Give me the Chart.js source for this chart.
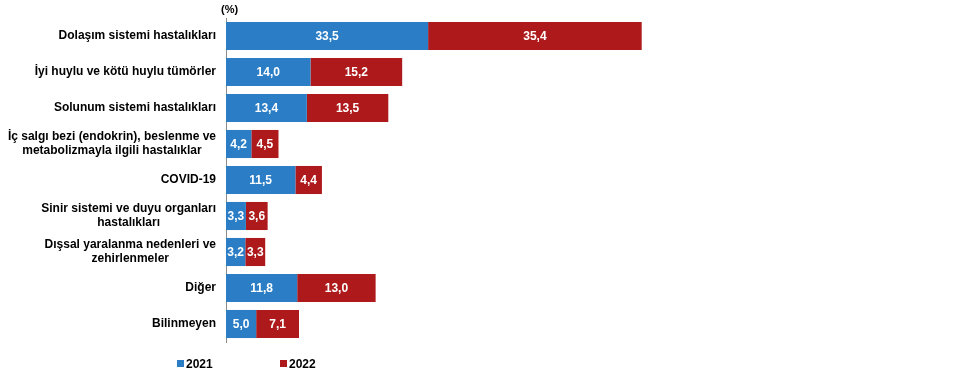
<!DOCTYPE html>
<html>
<head>
<meta charset="utf-8">
<script src="https://cdn.jsdelivr.net/npm/chart.js@4"></script>
<style>
  html, body { margin: 0; padding: 0; background: #fff; }
  #wrap { position: relative; width: 969px; height: 374px; }
  #legend { position: absolute; top: 357px; left: 0; font: bold 12px "Liberation Sans", Arial, sans-serif; color: #000; }
  #legend span.item { position: absolute; white-space: nowrap; }
  #legend i { display: inline-block; width: 7px; height: 7px; margin-right: 2px; vertical-align: 1px; }
</style>
</head>
<body>
<div id="wrap">
  <canvas id="chart" width="969" height="374"></canvas>
  <div id="legend"></div>
</div>
<script>
// categories (multi-line labels split like the original)
const categories = [
  "Dolaşım sistemi hastalıkları",
  "İyi huylu ve kötü huylu tümörler",
  "Solunum sistemi hastalıkları",
  ["İç salgı bezi (endokrin), beslenme ve", "metabolizmayla ilgili hastalıklar"],
  "COVID-19",
  ["Sinir sistemi ve duyu organları", "hastalıkları"],
  ["Dışsal yaralanma nedenleri ve", "zehirlenmeler"],
  "Diğer",
  "Bilinmeyen"
];
const years = ["2021", "2022"];
const values2021 = [33.5, 14.0, 13.4, 4.2, 11.5, 3.3, 3.2, 11.8, 5.0];
const values2022 = [35.4, 15.2, 13.5, 4.5, 4.4, 3.6, 3.3, 13.0, 7.1];
const colors = ["#2b7ec5", "#ae1a1b"];

const FONT = '"Liberation Sans", Arial, sans-serif';

// white value labels in the middle of each segment
const barLabels = {
  id: "barLabels",
  afterDatasetsDraw(chart) {
    const ctx = chart.ctx;
    ctx.save();
    ctx.font = "bold 12px " + FONT;
    ctx.fillStyle = "#fff";
    ctx.textAlign = "center";
    ctx.textBaseline = "middle";
    chart.data.datasets.forEach((ds, i) => {
      chart.getDatasetMeta(i).data.forEach((bar, j) => {
        const c = bar.getCenterPoint();
        ctx.fillText(ds.data[j].toFixed(1).replace(".", ","), c.x, c.y + 1);
      });
    });
    ctx.restore();
  }
};

// category labels: block right aligned to the axis, lines centred on each other
const catLabels = {
  id: "catLabels",
  afterDraw(chart) {
    const ctx = chart.ctx, y = chart.scales.y;
    const right = chart.scales.x.left - 10, lh = 14;
    ctx.save();
    ctx.font = "bold 12px " + FONT;
    ctx.fillStyle = "#000";
    ctx.textAlign = "center";
    ctx.textBaseline = "middle";
    chart.data.labels.forEach((lab, i) => {
      const lines = Array.isArray(lab) ? lab : [lab];
      const w = Math.max(...lines.map(l => ctx.measureText(l).width));
      const cx = right - w / 2;
      const cy = y.getPixelForValue(i);
      lines.forEach((l, k) => {
        ctx.fillText(l, cx, cy + (k - (lines.length - 1) / 2) * lh);
      });
    });
    // "(%)" above the axis
    ctx.textAlign = "left";
    ctx.font = "bold 11px " + FONT;
    ctx.fillText("(%)", chart.scales.x.left - 5, 10);
    ctx.restore();
  }
};

new Chart(document.getElementById("chart"), {
  type: "bar",
  data: {
    labels: categories,
    datasets: [
      { label: years[0], data: values2021, backgroundColor: colors[0] },
      { label: years[1], data: values2022, backgroundColor: colors[1] }
    ]
  },
  options: {
    indexAxis: "y",
    responsive: false,
    animation: false,
    events: [],
    layout: { padding: { top: 18, bottom: 32, right: 19, left: 0 } },
    datasets: { bar: { categoryPercentage: 0.78, barPercentage: 1 } },
    plugins: { legend: { display: false }, tooltip: { enabled: false } },
    scales: {
      x: { stacked: true, display: false, min: 0, max: 120 },
      y: {
        stacked: true,
        grid: { display: false, drawTicks: false },
        border: { display: true, color: "#8c8c8c", width: 1 },
        ticks: { display: false },
        afterFit(scale) { scale.width = 226; }
      }
    }
  },
  plugins: [barLabels, catLabels]
});

// legend as html
const legendPos = [177, 280];
const legend = document.getElementById("legend");
years.forEach((y, i) => {
  const s = document.createElement("span");
  s.className = "item";
  s.style.left = legendPos[i] + "px";
  s.innerHTML = '<i style="background:' + colors[i] + '"></i>' + y;
  legend.appendChild(s);
});
</script>
</body>
</html>
